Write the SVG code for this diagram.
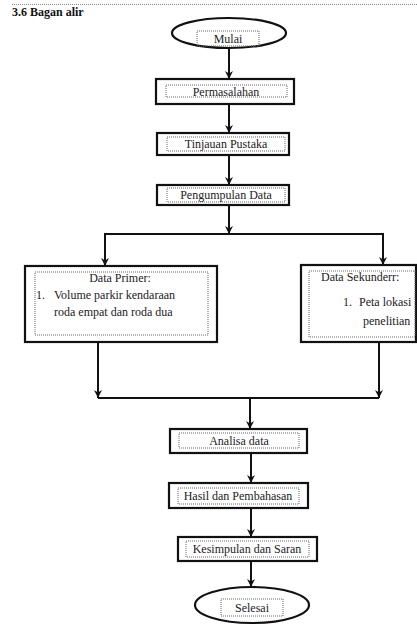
<svg xmlns="http://www.w3.org/2000/svg" width="417" height="625" viewBox="0 0 417 625" font-family="'Liberation Serif', 'Times New Roman', serif">
<defs>
<style>
text{font-family:"Liberation Serif","Times New Roman",serif;font-size:12px;fill:#222}
.title{font-weight:bold;font-size:12px;fill:#111}
.box{fill:#fff;stroke:#111;stroke-width:2.2}
.inner{fill:none;stroke:#666;stroke-width:1;stroke-dasharray:1 1}
.c{text-anchor:middle}
.conn{fill:none;stroke:#111;stroke-width:2}
</style>
<marker id="ah" markerWidth="10" markerHeight="10" refX="8" refY="5" orient="auto" markerUnits="userSpaceOnUse">
<path d="M0,1 L8,5 L0,9 L2.5,5 Z" fill="#111"/>
</marker>
</defs>
<rect width="417" height="625" fill="#fff"/>
<line x1="12" y1="4.5" x2="417" y2="4.5" stroke="#888" stroke-width="1" stroke-dasharray="1 1"/>
<text class="title" x="12" y="16">3.6 Bagan alir</text>

<g id="connectors">
<line class="conn" x1="229" y1="48" x2="229" y2="79" marker-end="url(#ah)"/>
<line class="conn" x1="229" y1="104" x2="229" y2="133" marker-end="url(#ah)"/>
<line class="conn" x1="229" y1="155" x2="229" y2="185" marker-end="url(#ah)"/>
<line class="conn" x1="229" y1="205" x2="229" y2="234" marker-end="url(#ah)"/>
<line class="conn" x1="104" y1="234" x2="384" y2="234"/>
<line class="conn" x1="105" y1="234" x2="105" y2="266" marker-end="url(#ah)"/>
<line class="conn" x1="383" y1="234" x2="383" y2="265" marker-end="url(#ah)"/>
<line class="conn" x1="98" y1="342" x2="98" y2="398" marker-end="url(#ah)"/>
<line class="conn" x1="379" y1="342" x2="379" y2="398" marker-end="url(#ah)"/>
<line class="conn" x1="98" y1="398" x2="379" y2="398"/>
<line class="conn" x1="250" y1="398" x2="250" y2="429" marker-end="url(#ah)"/>
<line class="conn" x1="251" y1="453" x2="251" y2="483" marker-end="url(#ah)"/>
<line class="conn" x1="251" y1="508" x2="251" y2="537" marker-end="url(#ah)"/>
<line class="conn" x1="251" y1="561" x2="251" y2="587" marker-end="url(#ah)"/>
</g>

<g id="mulai">
<ellipse class="box" cx="229" cy="33" rx="57" ry="15"/>
<rect class="inner" x="197" y="31" width="62" height="15"/>
<text class="c" x="228" y="43">Mulai</text>
</g>
<g id="permasalahan">
<rect class="box" x="156" y="79" width="138" height="25"/>
<rect class="inner" x="166" y="85" width="121" height="12"/>
<text class="c" x="226" y="96">Permasalahan</text>
</g>
<g id="tinjauan">
<rect class="box" x="157" y="133" width="132" height="22"/>
<rect class="inner" x="167" y="137" width="118" height="14"/>
<text class="c" x="226" y="148">Tinjauan  Pustaka</text>
</g>
<g id="pengumpulan">
<rect class="box" x="157" y="185" width="132" height="20"/>
<rect class="inner" x="167" y="188" width="118" height="14"/>
<text class="c" x="226" y="199">Pengumpulan Data</text>
</g>
<g id="primer">
<rect class="box" x="25" y="266" width="192" height="76"/>
<rect class="inner" x="35" y="272" width="173" height="63"/>
<text class="c" x="120" y="282">Data Primer:</text>
<text x="36" y="299">1.</text>
<text x="54" y="299">Volume parkir kendaraan</text>
<text x="54" y="316">roda empat  dan roda dua</text>
</g>
<g id="sekunder">
<rect class="box" x="301" y="265" width="115" height="77"/>
<rect class="inner" x="309" y="271" width="106" height="66"/>
<text x="321" y="281">Data Sekunderr:</text>
<text x="343" y="306">1.</text>
<text x="359" y="306">Peta lokasi</text>
<text x="363" y="325">penelitian</text>
</g>
<g id="analisa">
<rect class="box" x="170" y="429" width="137" height="24"/>
<rect class="inner" x="179" y="433" width="120" height="15"/>
<text class="c" x="239" y="445">Analisa data</text>
</g>
<g id="hasil">
<rect class="box" x="169" y="483" width="139" height="25"/>
<rect class="inner" x="178" y="488" width="121" height="16"/>
<text class="c" x="238" y="500">Hasil dan Pembahasan</text>
</g>
<g id="kesimpulan">
<rect class="box" x="178" y="537" width="139" height="24"/>
<rect class="inner" x="186" y="541" width="123" height="16"/>
<text class="c" x="247" y="553">Kesimpulan  dan Saran</text>
</g>
<g id="selesai">
<ellipse class="box" cx="252" cy="605" rx="57" ry="18"/>
<rect class="inner" x="221" y="599" width="62" height="17"/>
<text class="c" x="252" y="612">Selesai</text>
</g>
</svg>
